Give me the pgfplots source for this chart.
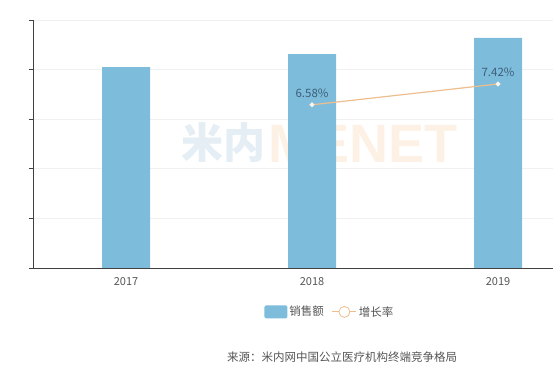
\documentclass[border=0pt]{standalone}
\usepackage{pgfplots}
\pgfplotsset{compat=1.18}
\usepackage{fontspec}
\setmainfont{Noto Sans CJK SC}
\newfontfamily\wmfont{Liberation Sans}
\definecolor{barblue}{HTML}{7DBCDA}
\definecolor{linetan}{HTML}{EDBE8E}
\definecolor{lblcol}{HTML}{3E5F78}
\definecolor{txtgray}{HTML}{555555}
\definecolor{wmblue}{HTML}{E4EEF4}
\definecolor{wmorange}{HTML}{FDF1E6}
\begin{document}
\begin{tikzpicture}[x=1pt,y=1pt]
\useasboundingbox (0,0) rectangle (553,374);
\begin{scope}
\clip (0,0) rectangle (553,374);
% watermark
\node[anchor=west, inner sep=0pt, text=wmblue, font=\bfseries\fontsize{42}{42}\selectfont] at (181,231) {米内};
\node[anchor=west, inner sep=0pt, text=wmorange, font=\wmfont\bfseries\fontsize{54}{54}\selectfont] at (268,230) {MENET};
\begin{axis}[
  at={(33pt,106pt)}, anchor=south west,
  scale only axis, width=520pt, height=248pt,
  xmin=-0.5, xmax=2.2957, ymin=0, ymax=5,
  ytick={0,1,2,3,4,5}, yticklabels={},
  ymajorgrids, grid style={draw=black!6, line width=0.6pt},
  xtick={0,1,2}, xticklabels={2017,2018,2019},
  major x tick style={draw=none},
  axis x line*=bottom, axis y line*=left,
  axis line style={draw=black!75, line width=0.8pt, -},
  y tick style={draw=black!75, line width=0.8pt},
  tick align=outside, major tick length=4pt,
  ticklabel style={font=\fontsize{11}{12}\selectfont, text=txtgray},
  xticklabel style={yshift=-2pt},
  /pgf/number format/assume math mode=true,
  legend style={at={(axis description cs:0.571,-0.177)}, anchor=center, draw=none, fill=none,
    legend columns=2, font=\fontsize{11.5}{13}\selectfont, text=txtgray,
    /tikz/every even column/.append style={column sep=6pt}},
  legend image code/.code={\fill[barblue, rounded corners=1.5pt] (0pt,-6.5pt) rectangle (23pt,6.5pt);},
]
\addplot[ybar, bar width=48pt, fill=barblue, draw=none] coordinates {(0,4.05) (1,4.31) (2,4.64)};
\addlegendentry{销售额}
\addlegendimage{legend image code/.code={
  \draw[linetan, line width=1pt] (0pt,0pt) -- (24pt,0pt);
  \draw[linetan, fill=white, line width=0.8pt] (12pt,0pt) circle (5.5pt);}}
\addlegendentry{增长率}
\end{axis}
\begin{axis}[
  at={(33pt,106pt)}, anchor=south west,
  scale only axis, width=520pt, height=248pt,
  xmin=-0.5, xmax=2.2957, ymin=0, ymax=10,
  hide axis,
]
\addplot[linetan, line width=1.2pt, mark=*, mark size=1.8pt, mark options={fill=white, draw=white!80!linetan},
  nodes near coords, point meta=explicit symbolic,
  every node near coord/.append style={font=\fontsize{11.5}{13}\selectfont, text=lblcol, yshift=3pt}]
  coordinates {(1,6.58) [6.58\%] (2,7.42) [7.42\%]};
\end{axis}
\node[text=txtgray, font=\fontsize{11.5}{13}\selectfont] at (342,17) {来源：米内网中国公立医疗机构终端竞争格局};
\end{scope}
\end{tikzpicture}
\end{document}
